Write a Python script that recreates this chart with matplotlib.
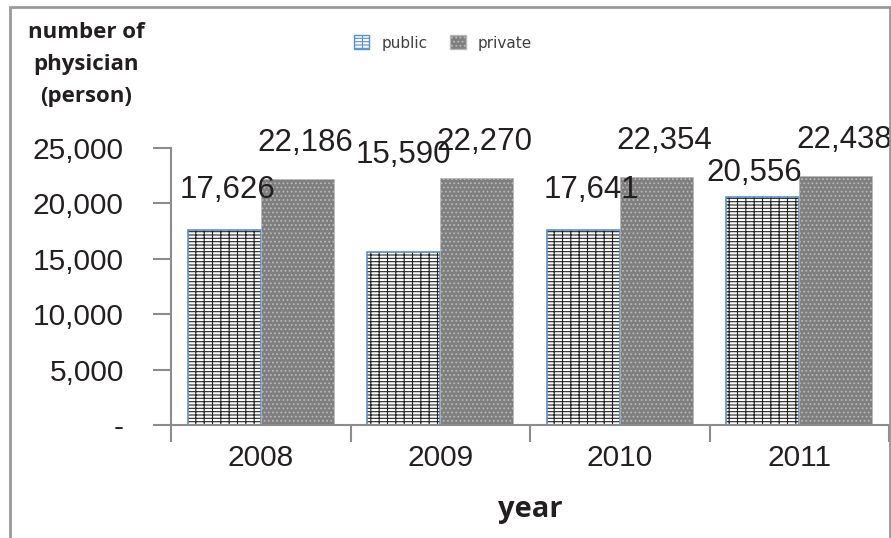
import matplotlib.pyplot as plt
import numpy as np
from matplotlib.patches import Rectangle, Patch

years = ['2008', '2009', '2010', '2011']
public = [17626, 15590, 17641, 20556]
private = [22186, 22270, 22354, 22438]
yticks = [0, 5000, 10000, 15000, 20000, 25000]
yticklabels = ['-', '5,000', '10,000', '15,000', '20,000', '25,000']

# label offsets in pixels (dx, dy above bar top), as placed in the original
pubOffsets = [(3, 40), (0, 97), (8, 40), (-9, 24)]
privOffsets = [(8, 36), (8, 36), (8, 36), (8, 36)]

textcolor = '#231f20'
axiscolor = '#8c8c8c'
plt.rcParams['hatch.linewidth'] = 0.8

fig = plt.figure(figsize=(8.91, 5.38), dpi=100)
ax = fig.add_axes([171/891, 1-425/538, 718/891, 277/538])

x = np.arange(len(years))
w = 0.407
pubX = x - w/2
privX = x + w/2

ax.bar(pubX, public, width=w, color='white', edgecolor='#222222', hatch='-----||', linewidth=0)
ax.bar(pubX, public, width=w, fill=False, edgecolor='#5b8fd0', linewidth=1.2)
ax.bar(privX, private, width=w, color='#7f7f7f', edgecolor='#b8b8b8', hatch='....', linewidth=0.5)

for i in range(len(years)):
    ax.annotate('{:,}'.format(public[i]), (pubX[i], public[i]), xytext=pubOffsets[i],
                textcoords='offset pixels', ha='center', va='center',
                fontsize=22.5, family='Liberation Sans', color=textcolor)
    ax.annotate('{:,}'.format(private[i]), (privX[i], private[i]), xytext=privOffsets[i],
                textcoords='offset pixels', ha='center', va='center',
                fontsize=22.5, family='Liberation Sans', color=textcolor)

ax.set_xlim(-0.5, len(years)-0.5)
ax.set_ylim(0, 25000)
ax.set_yticks(yticks)
ax.set_yticklabels(yticklabels, fontsize=21.5, family='Liberation Sans', color=textcolor)
ax.set_xticks(x)
ax.set_xticklabels(years, fontsize=21.5, family='Liberation Sans', color=textcolor)
ax.set_xticks(np.arange(len(years)+1) - 0.5, minor=True)
ax.tick_params(axis='x', which='major', length=0, pad=14)
ax.tick_params(axis='x', which='minor', length=12, width=1.5, color=axiscolor)
ax.tick_params(axis='y', length=13, width=1.5, color=axiscolor, pad=21)

for s in ['top', 'right']:
    ax.spines[s].set_visible(False)
for s in ['left', 'bottom']:
    ax.spines[s].set_color(axiscolor)
    ax.spines[s].set_linewidth(1.5)

ax.set_xlabel('year', fontsize=21, family='Open Sans', fontweight='bold', color=textcolor, labelpad=16)

fig.text(86/891, 1-22/538, 'number of\nphysician\n(person)', fontsize=16, family='Open Sans',
         fontweight='bold', color=textcolor, ha='center', va='top', linespacing=1.7,
         multialignment='center')

handles = [Patch(facecolor='white', edgecolor='#5b8fd0', hatch='-----||'),
           Patch(facecolor='#7f7f7f', edgecolor='#b8b8b8', hatch='....')]
leg = fig.legend(handles, ['public', 'private'], loc='center', bbox_to_anchor=(443/891, 1-43/538),
                 ncol=2, frameon=False, fontsize=11, handlelength=1.0, handleheight=1.0,
                 columnspacing=1.5, handletextpad=0.8)
for t in leg.get_texts():
    t.set_color('#404040')

fig.patches.append(Rectangle((10/891, -0.1), 880/891, 1.1 - 7/538, transform=fig.transFigure,
                             fill=False, edgecolor='#999999', linewidth=2))

plt.savefig('out.png', dpi=100)
